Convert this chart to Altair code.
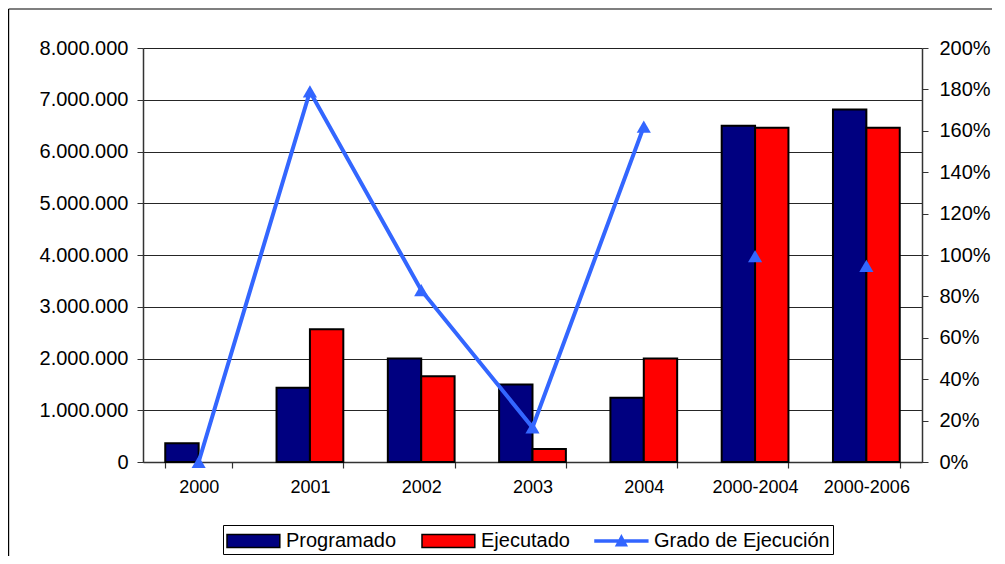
import altair as alt
import pandas as pd

categories = ["2000", "2001", "2002", "2003", "2004", "2000-2004", "2000-2006"]
programado = [360000, 1435000, 2000000, 1500000, 1240000, 6500000, 6810000]
ejecutado = [0, 2565000, 1655000, 250000, 2000000, 6460000, 6460000]
grado = [0.0, 1.79, 0.83, 0.167, 1.62, 0.994, 0.948]
connected = [True, True, True, True, True, False, False]

series = ["Programado", "Ejecutado", "Grado de Ejecución"]
colors = ["#000080", "#FF0000", "#3366FF"]
strokes = ["#000000", "#000000", "#3366FF"]

FONT = "Liberation Sans"

bars_df = pd.DataFrame(
    [{"cat": c, "serie": "Programado", "valor": v} for c, v in zip(categories, programado)]
    + [{"cat": c, "serie": "Ejecutado", "valor": v} for c, v in zip(categories, ejecutado)]
)
line_df = pd.DataFrame({"cat": categories, "pct": grado, "conn": connected,
                        "serie": "Grado de Ejecución"})
legend_df = pd.DataFrame({"serie": series})

rect_path = "M-1,-0.55H3.4V0.55H-1Z"
line_path = "M-1,-0.08H3.4V0.08H-1Z M0.75,0.4L1.2,-0.45L1.65,0.4Z"

legend_def = alt.Legend(
    title=None, orient="none", legendX=80, legendY=477, direction="horizontal",
    symbolSize=576, symbolStrokeWidth=1.5, labelFont=FONT, labelFontSize=20,
    labelColor="black", strokeColor="#000000", padding=3, columnPadding=22,
    labelOffset=34, symbolOpacity=1, labelLimit=400,
)

fill_scale = alt.Scale(domain=series, range=colors)
stroke_scale = alt.Scale(domain=series, range=strokes)
shape_scale = alt.Scale(domain=series, range=[rect_path, rect_path, line_path])

xenc = alt.X("cat:N", sort=categories, title=None,
             scale=alt.Scale(paddingInner=0.4, paddingOuter=0.2),
             axis=alt.Axis(labelAngle=0, labelFont=FONT, labelFontSize=18, labelColor="black",
                           tickBand="extent", tickSize=6, tickColor="#333333", tickWidth=1.2,
                           domainColor="#333333", domainWidth=1.5, labelPadding=10, grid=False))

bars = alt.Chart(bars_df).transform_filter("datum.valor > 0").mark_bar(
    strokeWidth=2, opacity=1).encode(
    x=xenc,
    xOffset=alt.XOffset("serie:N", sort=["Programado", "Ejecutado"]),
    y=alt.Y("valor:Q", title=None,
            scale=alt.Scale(domain=[0, 8000000], nice=False),
            axis=alt.Axis(values=list(range(0, 8000001, 1000000)),
                          labelExpr="replace(format(datum.value, ','), /,/g, '.')",
                          labelFont=FONT, labelFontSize=20, labelColor="black",
                          tickSize=6, tickColor="#333333", domainColor="#333333",
                          domainWidth=1.5, labelPadding=9, grid=True,
                          gridColor="#000000", gridOpacity=0.85, gridWidth=1)),
    fill=alt.Fill("serie:N", scale=fill_scale, legend=legend_def),
    stroke=alt.Stroke("serie:N", scale=stroke_scale, legend=legend_def),
)

line = alt.Chart(line_df).transform_filter("datum.conn").mark_line(strokeWidth=4).encode(
    x=alt.X("cat:N", sort=categories),
    y=alt.Y("pct:Q", title=None, scale=alt.Scale(domain=[0, 2], nice=False),
            axis=alt.Axis(orient="right", values=[i / 10 for i in range(0, 21, 2)], format=".0%",
                          labelFont=FONT, labelFontSize=20, labelColor="black",
                          tickSize=6, tickColor="#333333", domainColor="#333333",
                          domainWidth=1.5, labelPadding=11, grid=False)),
    stroke=alt.Stroke("serie:N", scale=stroke_scale, legend=legend_def),
)

points = alt.Chart(line_df).mark_point(filled=True, size=200, opacity=1).encode(
    x=alt.X("cat:N", sort=categories),
    y=alt.Y("pct:Q", scale=alt.Scale(domain=[0, 2], nice=False), axis=None),
    fill=alt.Fill("serie:N", scale=fill_scale, legend=legend_def),
    shape=alt.value("triangle-up"),
)

legend_carrier = alt.Chart(legend_df).transform_filter("false").mark_point(
    filled=True, opacity=1).encode(
    fill=alt.Fill("serie:N", scale=fill_scale, legend=legend_def),
    stroke=alt.Stroke("serie:N", scale=stroke_scale, legend=legend_def),
    shape=alt.Shape("serie:N", scale=shape_scale, legend=legend_def),
)

frame = alt.Chart(alt.Data(values=[{}])).mark_rule(color="black", strokeWidth=1.2).encode(
    x=alt.value(-134.4), x2=alt.value(-134.4), y=alt.value(-39), y2=alt.value(520)
)
frame_top = alt.Chart(alt.Data(values=[{}])).mark_rule(color="black", strokeWidth=1.2).encode(
    x=alt.value(-134.4), x2=alt.value(870), y=alt.value(-39)
)

chart = alt.layer(bars, line, points, legend_carrier, frame, frame_top).resolve_scale(
    y="independent"
).properties(
    width=779, height=414,
    autosize=alt.AutoSizeParams(type="none"),
    padding={"left": 135, "top": 40, "right": 70, "bottom": 94},
).configure_view(stroke=None).configure(background="white")

chart.save("out.html", embed_options={"renderer": "svg", "actions": False})
